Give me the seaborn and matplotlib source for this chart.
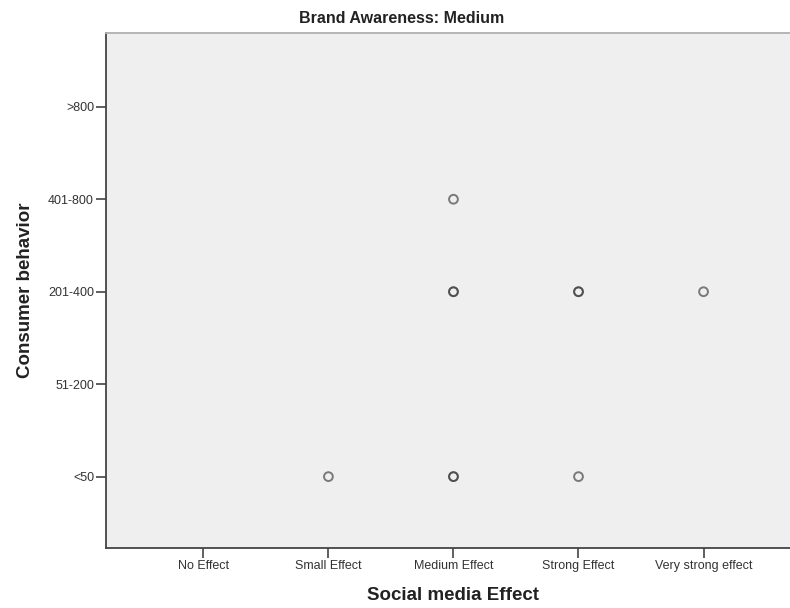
import matplotlib
matplotlib.use("Agg")
import matplotlib.pyplot as plt
import seaborn as sns
import pandas as pd

effect_levels = ["No Effect", "Small Effect", "Medium Effect", "Strong Effect", "Very strong effect"]
behavior_levels = ["<50", "51-200", "201-400", "401-800", ">800"]

# one entry per case (overlapping cases drawn darker)
effect = ["Small Effect", "Medium Effect", "Medium Effect", "Medium Effect", "Medium Effect",
          "Medium Effect", "Strong Effect", "Strong Effect", "Strong Effect", "Very strong effect"]
behavior = ["<50", "<50", "<50", "201-400", "201-400",
            "401-800", "<50", "201-400", "201-400", "201-400"]

df = pd.DataFrame({"Social media Effect": effect, "Consumer behavior": behavior})
df["x"] = pd.Categorical(df["Social media Effect"], categories=effect_levels).codes
df["y"] = pd.Categorical(df["Consumer behavior"], categories=behavior_levels).codes

sns.set_theme(style="white")
plt.rcParams["font.family"] = ["Liberation Sans", "DejaVu Sans"]

fig = plt.figure(figsize=(7.9, 6.08), dpi=100)
ax = fig.add_axes([0.134, 0.099, 0.88, 0.847])
ax.set_facecolor("#efefef")

sns.scatterplot(data=df, x="x", y="y", ax=ax, marker="o", s=40,
                facecolor="none", edgecolor="#3a3a3a", linewidth=1.4, alpha=0.65)

ax.set_xlim(-0.78, 4.78)
ax.set_ylim(-0.77, 4.8)
ax.set_xticks(range(len(effect_levels)))
ax.set_xticklabels(effect_levels)
ax.set_yticks(range(len(behavior_levels)))
ax.set_yticklabels(behavior_levels)
ax.tick_params(axis="both", direction="out", length=7, width=1.2, color="#444444",
               labelsize=9, labelcolor="#333333", pad=1.5)
ax.tick_params(axis="x", bottom=True)
ax.tick_params(axis="y", left=True)

for side in ["left", "bottom"]:
    ax.spines[side].set_color("#444444")
    ax.spines[side].set_linewidth(1.3)
ax.spines["top"].set_color("#b0b0b0")
ax.spines["top"].set_linewidth(1.3)
ax.spines["right"].set_visible(False)

ax.set_xlabel("Social media Effect", fontsize=13.5, fontweight="bold", color="#222222", labelpad=11)
ax.set_ylabel("Consumer behavior", fontsize=13.5, fontweight="bold", color="#222222", labelpad=10)
fig.text(0.508, 0.97, "Brand Awareness: Medium", ha="center", va="center",
         fontsize=11.5, fontweight="bold", color="#222222")

fig.savefig("out.png", dpi=100)
